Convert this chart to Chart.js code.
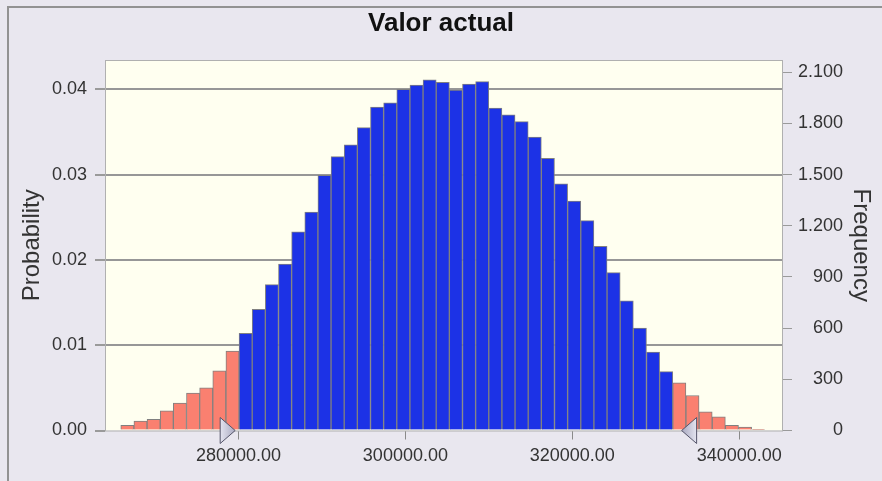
<!DOCTYPE html>
<html>
<head>
<meta charset="utf-8">
<script src="https://cdn.jsdelivr.net/npm/chart.js@4.4.0/dist/chart.umd.min.js"></script>
<style>
  html, body { margin: 0; padding: 0; background: #e9e7ef; }
  #wrap { width: 882px; height: 481px; }
</style>
</head>
<body>
<div id="wrap"><canvas id="hist" width="882" height="481"></canvas></div>
<script>
// histogram bins (centres) and probability of each bin
const binCenters = [
  266678, 268253, 269828, 271403, 272978, 274553, 276128, 277703, 279278,
  280853, 282428, 284003, 285578, 287153, 288728, 290303, 291878, 293453,
  295028, 296603, 298178, 299753, 301328, 302903, 304478, 306053, 307628,
  309203, 310778, 312353, 313928, 315503, 317078, 318653, 320228, 321803,
  323378, 324953, 326528, 328103, 329678, 331253, 332828, 334403, 335978,
  337553, 339128, 340703, 342278
]
const probabilities = [
  0.0006, 0.0011, 0.0013, 0.0023, 0.0032, 0.0044, 0.0050, 0.0070, 0.0093,
  0.0114, 0.0142, 0.0171, 0.0195, 0.0233, 0.0256, 0.0299, 0.0321, 0.0335,
  0.0355, 0.0379, 0.0384, 0.0400, 0.0405, 0.0411, 0.0408, 0.0399, 0.0406,
  0.0409, 0.0378, 0.0370, 0.0362, 0.0344, 0.0319, 0.0289, 0.0269, 0.0246,
  0.0216, 0.0185, 0.0152, 0.0120, 0.0092, 0.0069, 0.0056, 0.0041, 0.0022,
  0.0016, 0.0006, 0.0004, 0.0001
]
const certaintyRange = [280000, 332000]
const markerValues = [279600, 333100]
const xTicks = [280000, 300000, 320000, 340000]
const probTicks = [0, 0.01, 0.02, 0.03, 0.04]
const freqTicks = [0, 300, 600, 900, 1200, 1500, 1800, 2100]
const trials = 50000
const probMax = 0.04343

const blue = '#1c32e6'
const salmon = '#fa8070'

function thousands(v) {
  return String(v).replace(/\B(?=(\d{3})+(?!\d))/g, '.')
}

const framePlugin = {
  id: 'frame',
  beforeDraw(chart) {
    const { ctx, chartArea: a } = chart
    ctx.save()
    ctx.fillStyle = '#e9e7ef'
    ctx.fillRect(0, 0, chart.width, chart.height)
    ctx.strokeStyle = '#929292'
    ctx.lineWidth = 2
    ctx.beginPath()
    ctx.moveTo(8, chart.height)
    ctx.lineTo(8, 7)
    ctx.lineTo(chart.width, 7)
    ctx.stroke()
    ctx.fillStyle = '#fffff0'
    ctx.fillRect(a.left, a.top, a.right - a.left, a.bottom - a.top)
    ctx.restore()
  },
  afterDatasetsDraw(chart) {
    const { ctx, chartArea: a } = chart
    ctx.save()
    ctx.strokeStyle = '#b0b0b0'
    ctx.lineWidth = 1
    ctx.strokeRect(a.left + 0.5, a.top + 0.5, a.right - a.left - 1, a.bottom - a.top)
    ctx.restore()
  },
  afterDraw(chart) {
    const { ctx, chartArea: a } = chart
    const xs = chart.scales.x
    ctx.save()
    markerValues.forEach(function (v, i) {
      const tip = xs.getPixelForValue(v)
      const dir = i === 0 ? 1 : -1
      const back = tip - dir * 15
      const grad = ctx.createLinearGradient(back, 0, tip, 0)
      grad.addColorStop(0, '#e4e4f0')
      grad.addColorStop(1, '#a9a9c0')
      ctx.beginPath()
      ctx.moveTo(tip, a.bottom)
      ctx.lineTo(back, a.bottom - 13)
      ctx.lineTo(back, a.bottom + 13)
      ctx.closePath()
      ctx.fillStyle = grad
      ctx.fill()
      ctx.strokeStyle = '#55556a'
      ctx.lineWidth = 1
      ctx.stroke()
    })
    ctx.restore()
  }
}

Chart.defaults.font.family = "'Liberation Sans', Arial, sans-serif"

const ctx = document.getElementById('hist')
const histChart = new Chart(ctx, {
  type: 'bar',
  data: {
    datasets: [{
      label: 'Probability',
      data: binCenters.map((x, i) => ({ x: x, y: probabilities[i] })),
      backgroundColor: function (c) {
        const x = binCenters[c.dataIndex]
        return (x < certaintyRange[0] || x > certaintyRange[1]) ? salmon : blue
      },
      borderColor: '#808080',
      borderWidth: 1,
      barPercentage: 1,
      categoryPercentage: 1,
      yAxisID: 'y'
    }]
  },
  options: {
    responsive: false,
    animation: false,
    layout: { padding: 0 },
    plugins: {
      legend: { display: false },
      tooltip: { enabled: false },
      title: {
        display: true,
        text: 'Valor actual',
        color: '#111',
        font: { size: 26, weight: 'bold' },
        padding: { top: 8.7, bottom: 20.1 }
      }
    },
    scales: {
      x: {
        type: 'linear',
        min: 264000,
        max: 345250,
        offset: false,
        afterFit: s => { s.height = 50.5 },
        afterBuildTicks: s => { s.ticks = xTicks.map(v => ({ value: v })) },
        grid: { drawOnChartArea: false, drawTicks: true, tickLength: 9, tickColor: '#8a8a8a', offset: false },
        border: { display: false },
        ticks: {
          padding: 6, color: '#333', font: { size: 18 }, maxRotation: 0, autoSkip: false,
          callback: v => v.toFixed(2)
        }
      },
      y: {
        position: 'left',
        min: 0,
        max: probMax,
        afterFit: s => { s.width = 105 },
        afterBuildTicks: s => { s.ticks = probTicks.map(v => ({ value: v })) },
        grid: {
          color: c => (c.tick && c.tick.value === 0) ? 'rgba(0,0,0,0)' : '#979797',
          lineWidth: 2,
          tickLength: 10,
          tickColor: '#9a9a9a'
        },
        border: { display: false },
        ticks: { padding: 8, color: '#333', font: { size: 18 }, callback: v => v.toFixed(2) },
        title: {
          display: true, text: 'Probability', color: '#333',
          font: { size: 24 }, padding: { top: 17.6, bottom: 0 }
        }
      },
      y2: {
        position: 'right',
        min: 0,
        max: probMax * trials,
        afterFit: s => { s.width = 60 },
        afterBuildTicks: s => { s.ticks = freqTicks.map(v => ({ value: v })) },
        grid: { drawOnChartArea: false, tickLength: 9, tickColor: '#9a9a9a' },
        border: { display: false },
        ticks: { padding: 7, crossAlign: 'far', color: '#333', font: { size: 18 }, callback: v => thousands(v) },
        title: {
          display: true, text: 'Frequency', color: '#333',
          font: { size: 24 }, padding: { top: -32.4, bottom: 0 }
        }
      },
      // empty strip right of the frequency labels
      spacer: {
        type: 'linear',
        position: 'right',
        display: true,
        afterFit: s => { s.width = 39 },
        grid: { display: false },
        border: { display: false },
        ticks: { display: false }
      }
    }
  },
  plugins: [framePlugin]
})
</script>
</body>
</html>
